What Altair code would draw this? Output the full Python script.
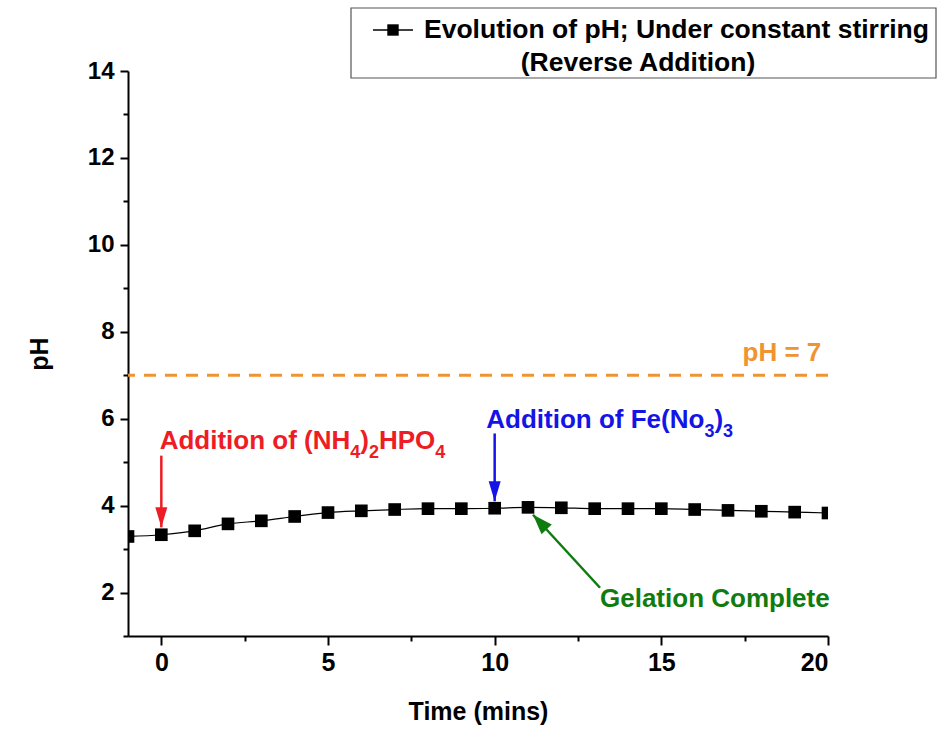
import altair as alt
import pandas as pd

# ---- data ----
time_min = [-1, 0, 1, 2, 3, 4, 5, 6, 7, 8, 9, 10, 11, 12, 13, 14, 15, 16, 17, 18, 19, 20]
ph_vals = [3.29, 3.33, 3.42, 3.58, 3.65, 3.75, 3.84, 3.88, 3.91, 3.93, 3.93, 3.94,
           3.96, 3.95, 3.93, 3.93, 3.93, 3.91, 3.89, 3.87, 3.85, 3.83]

y_major = [2, 4, 6, 8, 10, 12, 14]
y_minor = [1, 3, 5, 7, 9, 11, 13]
x_major = [0, 5, 10, 15, 20]
x_minor = [2.5, 7.5, 12.5, 17.5]

ref_ph = [7]
ref_label = ["pH = 7"]

legend_line1 = "Evolution of pH; Under constant stirring"
legend_line2 = "(Reverse Addition)"

# annotation texts split into (text, is_subscript) pieces
ann_red_parts = [("Addition of (NH", False), ("4", True), (")", False), ("2", True),
                 ("HPO", False), ("4", True)]
ann_blue_parts = [("Addition of Fe(No", False), ("3", True), (")", False), ("3", True)]
ann_green_text = "Gelation Complete"

df = pd.DataFrame({"t": time_min, "ph": ph_vals})
one = pd.DataFrame({"a": [0]})

FONT = "Liberation Sans"
RED = "#ee1c24"
BLUE = "#1414e6"
GREEN = "#107c10"
ORANGE = "#ef9430"
MAIN_FS = 26
SUB_FS = 18

# Liberation Sans Bold advance widths (per 1000 em), metric-compatible with Arial Bold
WIDTHS = {" ": 278, "(": 333, ")": 333, "A": 722, "d": 611, "i": 278, "t": 333, "o": 611,
          "n": 611, "f": 333, "N": 722, "H": 722, "P": 667, "O": 778, "F": 611, "e": 556}


def text_width(s, fs):
    return sum(WIDTHS.get(c, 556) for c in s) * fs / 1000.0


xscale = alt.Scale(domain=[-1, 20], nice=False, zero=False)
yscale = alt.Scale(domain=[1, 14], nice=False, zero=False)

x_main_axis = alt.Axis(values=x_major, title="Time (mins)", tickSize=9, tickWidth=2,
                       domainWidth=2, domainColor="black", tickColor="black",
                       labelFont=FONT, labelFontWeight="bold", labelFontSize=25,
                       labelColor="black", labelPadding=5, titleFont=FONT,
                       titleFontWeight="bold", titleFontSize=25, titleColor="black",
                       titlePadding=24, grid=False, orient="bottom")
y_main_axis = alt.Axis(values=y_major, title="pH", tickSize=8, tickWidth=2,
                       domainWidth=2, domainColor="black", tickColor="black",
                       labelFont=FONT, labelFontWeight="bold", labelFontSize=24,
                       labelColor="black", labelPadding=6, titleFont=FONT,
                       titleFontWeight="bold", titleFontSize=25, titleColor="black",
                       titlePadding=35, grid=False, orient="left")
x_minor_axis = alt.Axis(values=x_minor, title=None, labels=False, tickSize=5,
                        tickWidth=2, tickColor="black", domain=False, grid=False,
                        orient="bottom")
y_minor_axis = alt.Axis(values=y_minor, title=None, labels=False, tickSize=5,
                        tickWidth=2, tickColor="black", domain=False, grid=False,
                        orient="left")

base = alt.Chart(df)

# minor ticks layer (invisible marks)
minor = base.mark_point(opacity=0).encode(
    x=alt.X("t:Q", scale=xscale, axis=x_minor_axis),
    y=alt.Y("ph:Q", scale=yscale, axis=y_minor_axis),
)

line = base.mark_line(color="black", strokeWidth=1.2, interpolate="monotone", clip=True).encode(
    x=alt.X("t:Q", scale=xscale, axis=x_main_axis),
    y=alt.Y("ph:Q", scale=yscale, axis=y_main_axis),
)
pts = base.mark_point(shape="square", filled=True, color="black", opacity=1,
                      size=160, clip=True).encode(
    x=alt.X("t:Q", scale=xscale, axis=None),
    y=alt.Y("ph:Q", scale=yscale, axis=None),
)

refdf = pd.DataFrame({"ph": ref_ph, "lab": ref_label, "tx": [19.8]})
ref_line = alt.Chart(refdf).mark_rule(color=ORANGE, strokeWidth=3, strokeDash=[12, 9]).encode(
    y=alt.Y("ph:Q", scale=yscale, axis=None)
)
ref_text = alt.Chart(refdf).mark_text(color=ORANGE, font=FONT, fontWeight="bold",
                                      fontSize=MAIN_FS, align="right", baseline="middle",
                                      dy=-22).encode(
    x=alt.X("tx:Q", scale=xscale, axis=None),
    y=alt.Y("ph:Q", scale=yscale, axis=None),
    text="lab:N",
)

DOWN = "M0,0 L-0.6,-2 L0.6,-2 Z"
UP = "M0,0 L-0.7,2 L0.7,2 Z"


def arrow(x0, y0, x1, y1, color, shape, angle=0):
    d = pd.DataFrame({"x0": [x0], "y0": [y0], "x1": [x1], "y1": [y1]})
    shaft = alt.Chart(d).mark_rule(color=color, strokeWidth=2.5).encode(
        x=alt.X("x0:Q", scale=xscale, axis=None), y=alt.Y("y0:Q", scale=yscale, axis=None),
        x2="x1:Q", y2="y1:Q")
    head = alt.Chart(d).mark_point(shape=shape, filled=True, color=color, opacity=1,
                                   size=400, angle=angle).encode(
        x=alt.X("x1:Q", scale=xscale, axis=None), y=alt.Y("y1:Q", scale=yscale, axis=None))
    return shaft + head


def rich_label(x, y, parts, color):
    layers = []
    offset = 0.0
    for txt, sub in parts:
        fs = SUB_FS if sub else MAIN_FS
        d = pd.DataFrame({"x": [x], "y": [y], "s": [txt]})
        layers.append(alt.Chart(d).mark_text(
            color=color, font=FONT, fontWeight="bold", fontSize=fs, align="left",
            baseline="alphabetic", dx=offset, dy=(9 if sub else 0)).encode(
            x=alt.X("x:Q", scale=xscale, axis=None), y=alt.Y("y:Q", scale=yscale, axis=None),
            text="s:N"))
        offset += text_width(txt, fs)
    return alt.layer(*layers)


def label(x, y, text, color):
    d = pd.DataFrame({"x": [x], "y": [y], "s": [text]})
    return alt.Chart(d).mark_text(color=color, font=FONT, fontWeight="bold", fontSize=MAIN_FS,
                                  align="left", baseline="middle").encode(
        x=alt.X("x:Q", scale=xscale, axis=None), y=alt.Y("y:Q", scale=yscale, axis=None),
        text="s:N")


red_arrow = arrow(0, 5.15, 0, 3.50, RED, DOWN)
blue_arrow = arrow(10, 5.66, 10, 4.10, BLUE, DOWN)
green_arrow = arrow(13.16, 2.11, 11.15, 3.79, GREEN, UP, angle=317)

red_label = rich_label(-0.05, 5.30, ann_red_parts, RED)
blue_label = rich_label(9.75, 5.78, ann_blue_parts, BLUE)
green_label = label(13.16, 1.86, ann_green_text, GREEN)

# legend (drawn manually above the plot area)
LEG_FS = 26.5
leg_box = alt.Chart(one).mark_rect(fill="white", stroke="#555555", strokeWidth=1.2).encode(
    x=alt.value(223), x2=alt.value(808), y=alt.value(-63), y2=alt.value(7))
leg_line = alt.Chart(one).mark_rule(color="black", strokeWidth=1.5).encode(
    x=alt.value(245), x2=alt.value(285), y=alt.value(-41))
leg_pt = alt.Chart(one).mark_point(shape="square", filled=True, color="black", opacity=1,
                                   size=130).encode(x=alt.value(265), y=alt.value(-41))
leg_t1 = alt.Chart(one).mark_text(text=legend_line1, font=FONT, fontWeight="bold",
                                  fontSize=LEG_FS, align="left", baseline="middle",
                                  color="black").encode(x=alt.value(296), y=alt.value(-41))
leg_t2 = alt.Chart(one).mark_text(text=legend_line2, font=FONT, fontWeight="bold",
                                  fontSize=LEG_FS, align="center", baseline="middle",
                                  color="black").encode(x=alt.value(510), y=alt.value(-8))

chart = alt.layer(
    minor, ref_line, ref_text, line, pts,
    red_arrow, blue_arrow, green_arrow, red_label, blue_label, green_label,
    leg_box, leg_line, leg_pt, leg_t1, leg_t2,
).resolve_axis(x="independent", y="independent").properties(
    width=700, height=565,
    background="white",
    autosize=alt.AutoSizeParams(type="none"),
    padding={"left": 128, "top": 71, "right": 109, "bottom": 93},
).configure_view(stroke=None)

chart.save("out.html", embed_options={"renderer": "svg", "actions": False})
